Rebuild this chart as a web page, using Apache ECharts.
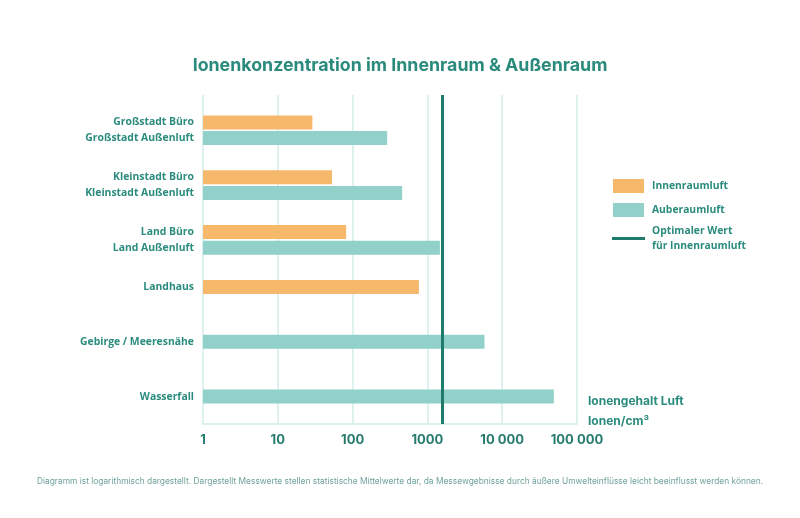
<!DOCTYPE html>
<html>
<head>
<meta charset="utf-8">
<script src="https://cdn.jsdelivr.net/npm/echarts@6/dist/echarts.min.js"></script>
<style>
html,body{margin:0;padding:0;background:#fff;}
#chart{width:800px;height:518px;}
</style>
</head>
<body>
<div id="chart"></div>
<script>
// ---- data ----
const categories = ['Großstadt Büro', 'Großstadt Außenluft', 'Kleinstadt Büro', 'Kleinstadt Außenluft', 'Land Büro', 'Land Außenluft', 'Landhaus', 'Gebirge / Meeresnähe', 'Wasserfall'];
const innenraumluft = [29, null, 53, null, 82, null, 770, null, null];
const aussenraumluft = [null, 290, null, 460, null, 1470, null, 5800, 49000];
const optimalerWert = 1600;
const xTickLabels = ['1', '10', '100', '1000', '10 000', '100 000'];
const seriesNames = ['Innenraumluft', 'Auberaumluft', 'Optimaler Wert\nfür Innenraumluft'];

// ---- layout (slot grid for the rows) ----
const ROW_SLOTS = [0, 2, 7, 9, 14, 16, 21, 28, 35];
const PAD = 3;
const TOTAL = 36 + 2 * PAD;
const slotLabels = new Array(TOTAL).fill('');
const innenData = new Array(TOTAL).fill(null);
const aussenData = new Array(TOTAL).fill(null);
categories.forEach((c, i) => {
  const s = ROW_SLOTS[i] + PAD;
  slotLabels[s] = c;
  innenData[s] = innenraumluft[i];
  aussenData[s] = aussenraumluft[i];
});

const TEAL_TEXT = '#2b8b7e';
const DARK = '#1f7b6c';
const ORANGE = '#f6b86b';
const TEAL_BAR = '#91d1ca';
const GRID_C = '#d3ece9';

const chart = echarts.init(document.getElementById('chart'), null, {renderer: 'canvas'});
chart.setOption({
  backgroundColor: '#ffffff',
  animation: false,
  title: [{
    text: 'Ionenkonzentration im Innenraum & Außenraum',
    left: 'center', top: 52,
    textStyle: {fontFamily: 'Inter', fontWeight: 700, fontSize: 17.8, color: '#2a8a7b'}
  }, {
    text: 'Diagramm ist logarithmisch dargestellt. Dargestellt Messwerte stellen statistische Mittelwerte dar, da Messewgebnisse durch äußere Umwelteinflüsse leicht beeinflusst werden können.',
    left: 'center', top: 472,
    textStyle: {fontFamily: 'Inter', fontWeight: 400, fontSize: 8.4, color: '#6fa39c'}
  }],
  grid: {left: 203, right: 223, top: 95, bottom: 94, containLabel: false},
  legend: [{
    data: [seriesNames[0], seriesNames[1]],
    orient: 'vertical', left: 613, top: 179, padding: 0,
    itemWidth: 31, itemHeight: 14, itemGap: 10, icon: 'rect',
    textStyle: {fontFamily: 'Open Sans', fontWeight: 'bold', fontSize: 10.3, color: TEAL_TEXT, padding: [0, 0, 0, 3]}
  }, {
    data: [{name: seriesNames[2], icon: 'path://M0,0H32V3H0Z'}],
    orient: 'vertical', left: 612, top: 224, padding: 0,
    itemWidth: 33, itemHeight: 14,
    textStyle: {fontFamily: 'Open Sans', fontWeight: 'bold', fontSize: 10.3, lineHeight: 14.5, color: TEAL_TEXT, padding: [0, 0, 0, 2]}
  }],
  xAxis: {
    type: 'log', logBase: 10, min: 1, max: 100000,
    axisLine: {show: true, lineStyle: {color: GRID_C, width: 1.5}},
    axisTick: {show: false},
    splitLine: {show: true, lineStyle: {color: GRID_C, width: 1.5}},
    axisLabel: {
      margin: 10,
      fontFamily: 'Inter', fontWeight: 700, fontSize: 13, color: '#267b6e',
      formatter: v => xTickLabels[Math.round(Math.log10(v))]
    }
  },
  yAxis: {
    type: 'category', inverse: true, data: slotLabels,
    axisLine: {show: false}, axisTick: {show: false}, splitLine: {show: false},
    axisLabel: {interval: 0, margin: 9, fontFamily: 'Open Sans', fontWeight: 'bold', fontSize: 10.4, color: TEAL_TEXT}
  },
  graphic: [{
    type: 'text', left: 588, top: 391,
    style: {text: 'Ionengehalt Luft\nIonen/cm³', fontFamily: 'Inter', fontWeight: 700, fontSize: 12, lineHeight: 20, fill: TEAL_TEXT}
  }],
  series: [{
    name: seriesNames[0], type: 'bar', data: innenData,
    barWidth: 14, barGap: '-100%', itemStyle: {color: ORANGE}
  }, {
    name: seriesNames[1], type: 'bar', data: aussenData,
    barWidth: 14, barGap: '-100%', itemStyle: {color: TEAL_BAR}
  }, {
    name: seriesNames[2], type: 'line', data: [],
    itemStyle: {color: DARK}, lineStyle: {color: DARK, width: 3},
    markLine: {
      silent: true, symbol: 'none', label: {show: false},
      lineStyle: {color: DARK, width: 3, type: 'solid'},
      data: [{xAxis: optimalerWert}]
    }
  }]
});
</script>
</body>
</html>
